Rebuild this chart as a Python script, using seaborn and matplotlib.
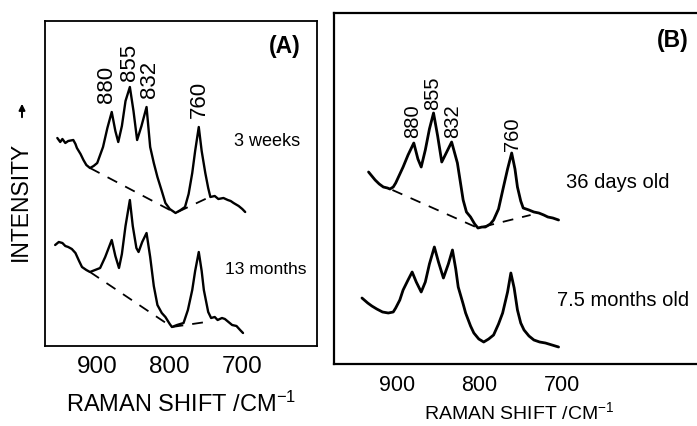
import matplotlib
matplotlib.use("Agg")
import matplotlib.pyplot as plt
import seaborn as sns
import pandas as pd

# ---------------- data ----------------
# Panel A, 3 weeks
a1_wn = [955, 951, 948, 944, 940, 933, 930, 928, 923, 919, 915, 910, 905, 900, 892, 886, 880, 875, 871,
         866, 861, 855, 850, 845, 839, 832, 827, 822, 817, 811, 806, 800, 792, 785, 779, 774, 769, 765,
         760, 756, 751, 747, 744, 738, 733, 726, 720, 716, 712, 705, 700, 696]
a1_int = [208, 204, 207, 203, 205, 206, 202, 198, 192, 186, 181, 178, 180, 183, 199, 218, 234, 215, 204,
          220, 245, 259, 235, 206, 220, 239, 199, 183, 169, 155, 143, 137, 133, 136, 139, 152, 173, 195,
          219, 195, 173, 158, 149, 150, 147, 148, 146, 145, 143, 140, 137, 134]
a1_base_wn = [910, 792, 748]
a1_base_int = [178, 133, 148]

# Panel A, 13 months
a2_wn = [958, 953, 948, 944, 940, 935, 930, 925, 921, 915, 910, 903, 896, 889, 880, 875, 870, 866, 861,
         855, 851, 846, 843, 838, 832, 827, 822, 817, 811, 806, 800, 797, 790, 781, 775, 769, 765, 760,
         756, 753, 747, 743, 738, 734, 728, 724, 719, 714, 708, 703, 699]
a2_int = [101, 104, 103, 100, 99, 97, 93, 85, 79, 76, 74, 76, 78, 89, 106, 90, 78, 92, 120,
          146, 120, 98, 94, 104, 113, 89, 60, 41, 33, 29, 22, 19, 21, 23, 36, 56, 75, 94,
          75, 56, 34, 28, 29, 26, 28, 27, 24, 21, 20, 16, 13]
a2_base_wn = [910, 797, 750]
a2_base_int = [74, 19, 24]

# Panel B, 36 days old
b1_wn = [935, 931, 927, 922, 917, 912, 909, 905, 902, 893, 887, 880, 875, 871, 866, 861, 856, 851, 846,
         840, 834, 827, 820, 816, 811, 806, 802, 797, 793, 787, 783, 777, 771, 766, 761, 757, 754, 750,
         747, 740, 734, 728, 722, 717, 711, 704]
b1_int = [192, 188, 184, 180, 177, 176, 175, 177, 181, 197, 209, 221, 205, 197, 214, 235, 251, 228, 202,
          212, 222, 201, 164, 152, 147, 140, 136, 137, 137, 140, 144, 155, 177, 195, 211, 195, 177, 163,
          156, 154, 152, 151, 149, 147, 146, 144]
b1_base_wn = [906, 802, 738]
b1_base_int = [174, 136, 149]

# Panel B, 7.5 months old
b2_wn = [943, 936, 931, 925, 918, 911, 905, 902, 897, 893, 887, 882, 877, 871, 866, 861, 855, 850, 844,
         838, 833, 829, 826, 820, 817, 811, 807, 801, 795, 789, 783, 777, 772, 766, 762, 758, 754, 750,
         746, 740, 734, 727, 720, 712, 704]
b2_int = [66, 61, 58, 55, 52, 51, 52, 56, 64, 74, 84, 92, 82, 72, 82, 100, 117, 102, 86,
          100, 114, 95, 77, 60, 51, 38, 31, 25, 22, 25, 29, 40, 51, 72, 91, 76, 54, 41,
          34, 28, 24, 22, 21, 19, 17]

peak_labels = ["880", "855", "832", "760"]
a_label_x = [887, 856, 828, 759]
a_label_y = [262, 284, 267, 247]
b_label_x = [882, 857, 833, 760]
b_label_y = [243, 271, 243, 230]

xticks = [900, 800, 700]

# ---------------- style ----------------
sns.set_style("white")
plt.rcParams["font.family"] = ["Liberation Sans", "DejaVu Sans"]
plt.rcParams["mathtext.fontset"] = "custom"
plt.rcParams["mathtext.rm"] = "Liberation Sans"
plt.rcParams["mathtext.default"] = "regular"
plt.rcParams["text.color"] = "black"
plt.rcParams["axes.labelcolor"] = "black"
plt.rcParams["xtick.color"] = "black"

W, H = 697, 426
fig = plt.figure(figsize=(W / 100, H / 100), dpi=100)

def px_axes(l, r, t, b):
    return fig.add_axes([l / W, 1 - b / H, (r - l) / W, (b - t) / H])

axA = px_axes(45, 317, 21, 346)
axB = px_axes(334, 705, 13, 364)

def draw(ax, wn, inten, lw, base_wn=None, base_int=None):
    sns.lineplot(data=pd.DataFrame({"wn": wn, "I": inten}), x="wn", y="I", ax=ax,
                 color="black", linewidth=lw, estimator=None, sort=False)
    if base_wn is not None:
        sns.lineplot(data=pd.DataFrame({"wn": base_wn, "I": base_int}), x="wn", y="I", ax=ax,
                     color="black", linewidth=1.3, estimator=None, sort=False)
        ax.lines[-1].set_linestyle((0, (6, 5)))

draw(axA, a1_wn, a1_int, 1.7, a1_base_wn, a1_base_int)
draw(axA, a2_wn, a2_int, 1.7, a2_base_wn, a2_base_int)
draw(axB, b1_wn, b1_int, 2.0, b1_base_wn, b1_base_int)
draw(axB, b2_wn, b2_int, 2.0)

axA.set_xlim(972, 597)
axA.set_ylim(0, 325)
axB.set_xlim(977, 526)
axB.set_ylim(0, 351)

for ax, fs, lw, tl, pad in [(axA, 17.5, 1.3, 10, 7), (axB, 15.5, 1.6, 11, 8)]:
    ax.set_xticks(xticks)
    ax.set_xticklabels([str(t) for t in xticks])
    ax.set_yticks([])
    ax.set_ylabel("")
    ax.tick_params(axis="x", direction="in", length=tl, width=1.5, labelsize=fs, pad=pad,
                   colors="black")
    for s in ax.spines.values():
        s.set_color("black")
        s.set_linewidth(lw)

axA.set_xlabel("RAMAN SHIFT /CM$^{-1}$", fontsize=17, labelpad=10)
axB.set_xlabel("RAMAN SHIFT /CM$^{-1}$", fontsize=14, labelpad=4)

for lab, x, y in zip(peak_labels, a_label_x, a_label_y):
    axA.text(x, y, lab, rotation=90, ha="center", va="center", fontsize=16)
for lab, x, y in zip(peak_labels, b_label_x, b_label_y):
    axB.text(x, y, lab, rotation=90, ha="center", va="center", fontsize=14.5)

axA.text(665.5, 205, "3 weeks", ha="center", va="center", fontsize=13)
axA.text(667, 77, "13 months", ha="center", va="center", fontsize=12.5)
axB.text(632, 181, "36 days old", ha="center", va="center", fontsize=14.5)
axB.text(626, 64, "7.5 months old", ha="center", va="center", fontsize=14.5)

axA.text(0.882, 0.92, "(A)", transform=axA.transAxes, ha="center", va="center",
         fontsize=16.5, fontweight="bold")
axB.text(0.914, 0.923, "(B)", transform=axB.transAxes, ha="center", va="center",
         fontsize=16.5, fontweight="bold")

fig.text(20 / W, 1 - 201 / H, "INTENSITY", rotation=90, ha="center", va="center", fontsize=16.5)
fig.add_artist(matplotlib.patches.FancyArrowPatch((22 / W, 1 - 120 / H), (22 / W, 1 - 101 / H),
               transform=fig.transFigure, arrowstyle="-|>", mutation_scale=9, lw=1.4, color="black"))

fig.savefig("out.png", dpi=100)
